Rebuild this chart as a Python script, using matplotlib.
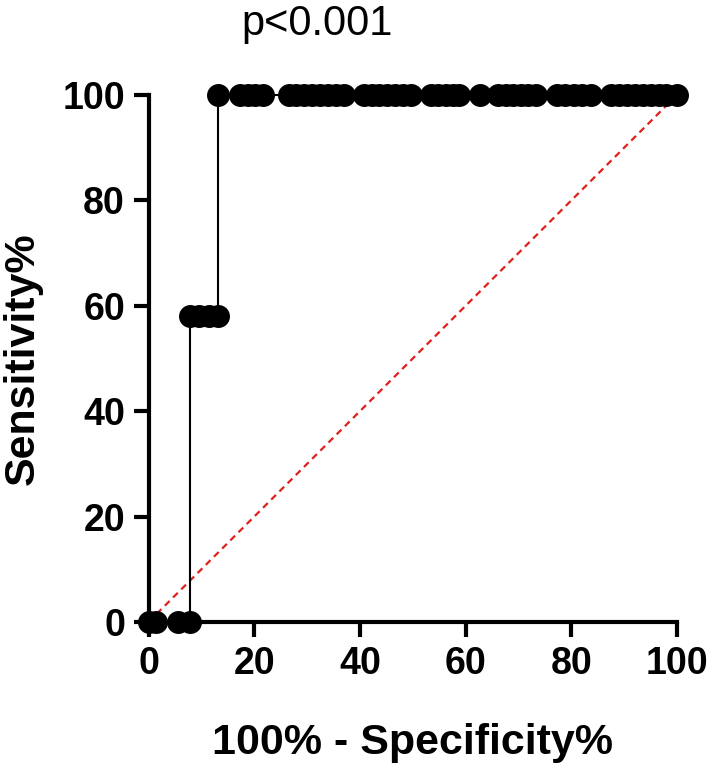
import matplotlib
matplotlib.use("Agg")
import matplotlib.pyplot as plt

# ROC curve points (100% - Specificity%, Sensitivity%)
fpr = [0.0, 1.4, 5.5, 7.9,
       7.9, 9.6, 11.4, 13.2,
       13.2, 17.4, 18.8, 20.2, 21.6, 26.5, 28.0, 29.5, 31.0, 32.5, 34.0, 35.5, 36.9,
       40.7, 42.2, 43.7, 45.1, 46.6, 48.1, 49.6, 53.4, 54.8, 56.2, 57.6, 58.7, 62.7,
       66.2, 67.6, 69.0, 70.5, 71.9, 73.3, 77.2, 78.8, 80.5, 82.1, 83.7,
       87.5, 89.0, 90.5, 92.0, 93.5, 95.0, 96.5, 98.0, 100.0]
tpr = [0, 0, 0, 0,
       58, 58, 58, 58,
       100, 100, 100, 100, 100, 100, 100, 100, 100, 100, 100, 100, 100,
       100, 100, 100, 100, 100, 100, 100, 100, 100, 100, 100, 100, 100,
       100, 100, 100, 100, 100, 100, 100, 100, 100, 100, 100,
       100, 100, 100, 100, 100, 100, 100, 100, 100]
diag_x = [0, 100]
diag_y = [0, 100]
ticks = [0, 20, 40, 60, 80, 100]
title_text = "p<0.001"
xlabel_text = "100% - Specificity%"
ylabel_text = "Sensitivity%"

plt.rcParams['font.family'] = ['Liberation Sans', 'DejaVu Sans']

fig = plt.figure(figsize=(7.09, 7.63), dpi=100)
ax = fig.add_axes([148.5/709, 1-622/763, (677-148.5)/709, (622-95)/763])

ax.plot(diag_x, diag_y, color='#e0201b', lw=1.6, ls=(0, (3, 2.2)), zorder=2, clip_on=False)
ax.plot(fpr, tpr, color='black', lw=1.5, marker='o', markersize=15.5,
        markerfacecolor='black', markeredgecolor='black', zorder=3, clip_on=False)

ax.set_xlim(0, 100)
ax.set_ylim(0, 100)
ax.set_xticks(ticks)
ax.set_yticks(ticks)
for s in ['top', 'right']:
    ax.spines[s].set_visible(False)
for s in ['left', 'bottom']:
    ax.spines[s].set_linewidth(3)
ax.tick_params(axis='both', which='major', length=11, width=3, direction='out',
               labelsize=27, pad=6)
for lab in ax.get_xticklabels() + ax.get_yticklabels():
    lab.set_fontweight('bold')

ax.set_xlabel(xlabel_text, fontsize=31, fontweight='bold', labelpad=30)
ax.set_ylabel(ylabel_text, fontsize=31, fontweight='bold', labelpad=14)

fig.text(317/709, 1-24/763, title_text, fontsize=30, ha='center', va='center')

fig.savefig("out.png", dpi=100)
